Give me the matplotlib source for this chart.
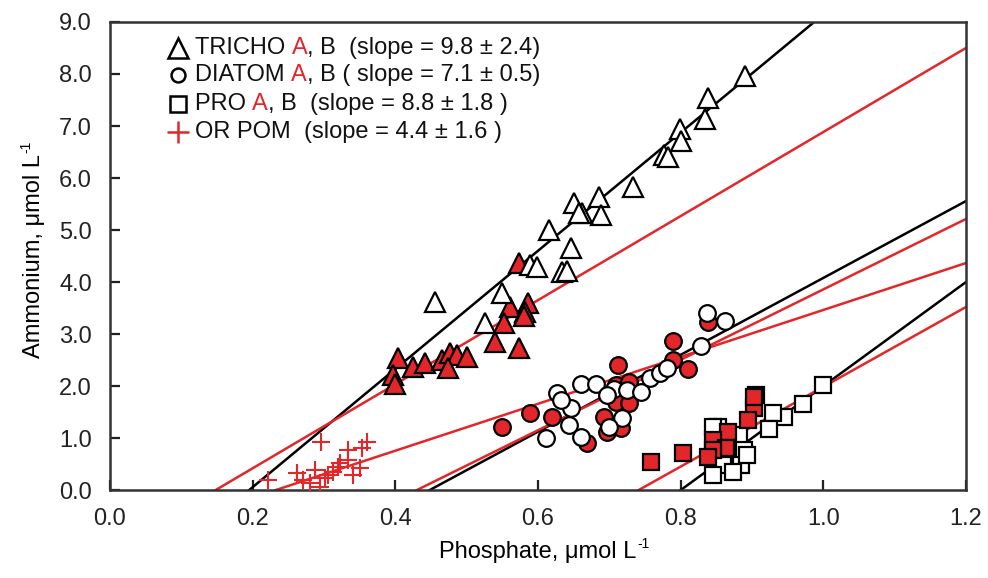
import numpy as np
import matplotlib
matplotlib.use("Agg")
import matplotlib.pyplot as plt

plt.rcParams['font.family'] = ['Liberation Sans', 'DejaVu Sans']

RED = '#e3262a'

# TRICHO: B = open, A = red filled
tricho_b_x = [0.890, 0.839, 0.834, 0.799, 0.800, 0.776, 0.782, 0.733, 0.685, 0.688, 0.662,
              0.650, 0.657, 0.615, 0.646, 0.634, 0.641, 0.589, 0.599, 0.550, 0.456, 0.526]
tricho_b_y = [7.96, 7.54, 7.13, 6.94, 6.71, 6.44, 6.40, 5.83, 5.63, 5.29, 5.33,
              5.52, 5.33, 5.00, 4.65, 4.19, 4.22, 4.33, 4.29, 3.79, 3.62, 3.21]
tricho_a_x = [0.573, 0.561, 0.586, 0.582, 0.552, 0.540, 0.573, 0.404, 0.425, 0.442, 0.466,
              0.477, 0.487, 0.501, 0.474, 0.397, 0.400, 0.580]
tricho_a_y = [4.37, 3.52, 3.59, 3.42, 3.21, 2.85, 2.73, 2.54, 2.37, 2.44, 2.50,
              2.63, 2.60, 2.56, 2.35, 2.21, 2.05, 3.35]

# DIATOM
diatom_b_x = [0.837, 0.862, 0.829, 0.660, 0.681, 0.627, 0.706, 0.725, 0.744, 0.757, 0.771,
              0.781, 0.697, 0.646, 0.643, 0.718, 0.699, 0.660, 0.611, 0.632]
diatom_b_y = [3.40, 3.25, 2.78, 2.05, 2.04, 1.87, 1.94, 1.92, 1.89, 2.15, 2.25,
              2.35, 1.83, 1.58, 1.25, 1.38, 1.21, 1.02, 1.00, 1.73]
diatom_a_x = [0.790, 0.789, 0.811, 0.712, 0.709, 0.727, 0.709, 0.727, 0.692, 0.697, 0.716,
              0.669, 0.619, 0.589, 0.550, 0.838]
diatom_a_y = [2.87, 2.50, 2.33, 2.40, 2.02, 2.08, 1.69, 1.67, 1.41, 1.12, 1.19,
              0.90, 1.40, 1.48, 1.21, 3.23]

# PRO
pro_a_x = [0.905, 0.903, 0.894, 0.866, 0.846, 0.863, 0.845, 0.839, 0.803, 0.758, 0.903]
pro_a_y = [1.83, 1.58, 1.35, 1.12, 0.96, 0.81, 0.77, 0.63, 0.71, 0.55, 1.79]
pro_b_x = [0.999, 0.971, 0.945, 0.930, 0.924, 0.852, 0.882, 0.889, 0.859, 0.884, 0.845,
           0.874, 0.893, 0.846]
pro_b_y = [2.02, 1.65, 1.40, 1.48, 1.17, 1.21, 1.06, 0.77, 0.48, 0.48, 0.29,
           0.35, 0.67, 1.21]

# OR POM
orpom_x = [0.222, 0.262, 0.296, 0.288, 0.281, 0.295, 0.302, 0.306, 0.313, 0.319, 0.323,
           0.333, 0.333, 0.351, 0.361, 0.354, 0.341, 0.270]
orpom_y = [0.19, 0.33, 0.92, 0.38, 0.13, 0.06, 0.23, 0.29, 0.35, 0.44, 0.52,
           0.58, 0.77, 0.42, 0.92, 0.81, 0.29, 0.20]

# regression lines: x-intercept and slope
fit_x0 = [0.195, 0.148, 0.448, 0.430, 0.232, 0.800, 0.741]
fit_slope = [11.36, 8.08, 7.39, 6.77, 4.51, 10.0, 7.67]
fit_color = ['k', RED, 'k', RED, RED, 'k', RED]

legend_labels = [
    ("TRICHO ", "A", ", B  (slope = 9.8 ± 2.4)"),
    ("DIATOM ", "A", ", B ( slope = 7.1 ± 0.5)"),
    ("PRO ", "A", ", B  (slope = 8.8 ± 1.8 )"),
    ("OR POM  (slope = 4.4 ± 1.6 )", "", ""),
]

fig = plt.figure(figsize=(9.88, 5.78), dpi=100)
ax = fig.add_axes([0.1113, 0.152, 0.8664, 0.810])

for x0, m, c in zip(fit_x0, fit_slope, fit_color):
    xs = np.array([x0, 1.2])
    ax.plot(xs, m * (xs - x0), color=c, lw=1.8, zorder=2)

mk = dict(mec='k', mew=1.6, ls='none', zorder=3)
ax.plot(tricho_a_x, tricho_a_y, '^', ms=14, mfc=RED, **mk)
ax.plot(tricho_b_x, tricho_b_y, '^', ms=14, mfc='white', **mk)
ax.plot(diatom_a_x, diatom_a_y, 'o', ms=12, mfc=RED, **mk)
ax.plot(diatom_b_x, diatom_b_y, 'o', ms=12, mfc='white', **mk)
ax.plot(pro_b_x, pro_b_y, 's', ms=11, mfc='white', **mk)
ax.plot(pro_a_x, pro_a_y, 's', ms=11, mfc=RED, **mk)
ax.plot(orpom_x, orpom_y, '+', ms=13, mew=1.5, color=RED, ls='none', zorder=3)

ax.set_xlim(0, 1.2)
ax.set_ylim(0, 9)
ax.set_xticks(np.arange(0, 1.21, 0.2))
ax.set_xticklabels([f"{v:.1f}" for v in np.arange(0, 1.21, 0.2)])
ax.set_yticks(np.arange(0, 9.1, 1))
ax.set_yticklabels([f"{v:.1f}" for v in np.arange(0, 9.1, 1)])
ax.tick_params(direction='in', length=7, width=1.6, labelsize=17, colors='#222222')
ax.tick_params(axis='x', pad=13)
ax.tick_params(axis='y', pad=13)
for s in ax.spines.values():
    s.set_linewidth(1.8)
    s.set_color('#333333')

ax.set_xlabel("Phosphate, μmol L", fontsize=17, labelpad=8)
ax.set_ylabel("Ammonium, μmol L", fontsize=17, labelpad=10)
# small raised "-1" after the units
ax.annotate("-1", xy=(1, 1), xycoords=ax.xaxis.label, xytext=(0.5, 3), textcoords='offset points',
            ha='left', va='top', fontsize=10)
ax.annotate("-1", xy=(0, 1), xycoords=ax.yaxis.label, xytext=(-3, 0.5), textcoords='offset points',
            ha='left', va='bottom', fontsize=10, rotation=90)

# legend built by hand (coloured "A")
leg_marks = [('^', 'white', 'k', 15), ('o', 'white', 'k', 10), ('s', 'white', 'k', 11), ('+', RED, RED, 16)]
rows_y = [0.945, 0.886, 0.824, 0.765]
for (m, fc, ec, ms), (t1, t2, t3), yy in zip(leg_marks, legend_labels, rows_y):
    ax.plot([0.079], [yy], m, ms=ms, mfc=fc, mec=ec, mew=1.8, transform=ax.transAxes, clip_on=False)
    txt = ax.text(0.099, yy, t1, transform=ax.transAxes, fontsize=17, va='center', color='#111111')
    if t2:
        txt = ax.annotate(t2, xy=(1, 0), xycoords=txt, va='bottom', fontsize=17, color=RED)
        ax.annotate(t3, xy=(1, 0), xycoords=txt, va='bottom', fontsize=17, color='#111111')

fig.savefig("out.png", dpi=100)
